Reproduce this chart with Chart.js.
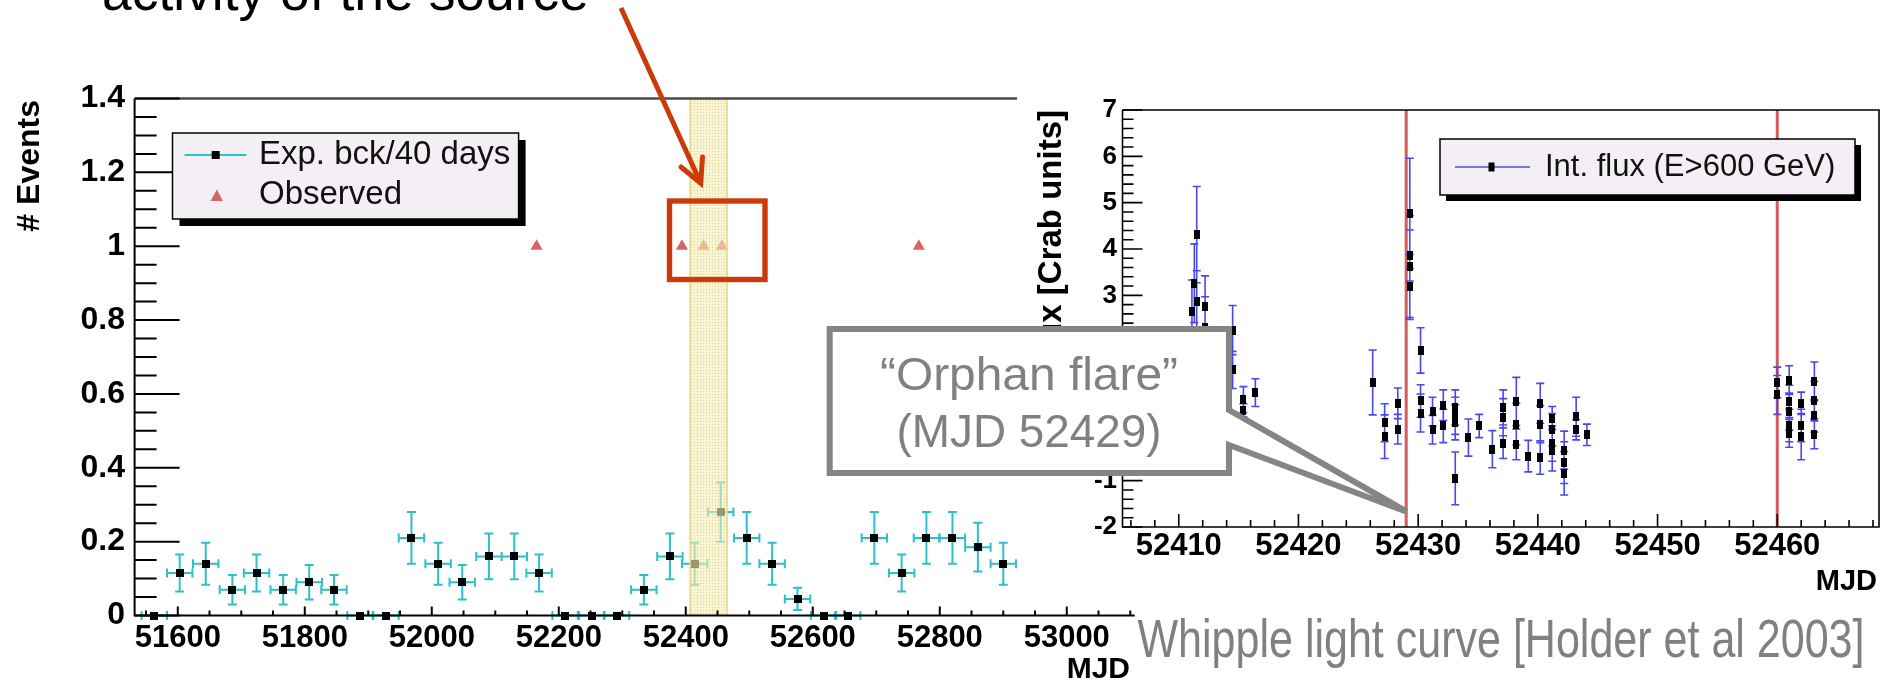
<!DOCTYPE html>
<html>
<head>
<meta charset="utf-8">
<title>Orphan flare light curves</title>
<script src="https://cdn.jsdelivr.net/npm/chart.js@4.4.1/dist/chart.umd.min.js"></script>
<style>
    html, body { margin: 0; padding: 0; background: #fff; overflow: hidden; }
    #page { position: relative; width: 1884px; height: 686px; }
    #leftBox { position: absolute; left: 0; top: 0; width: 1884px; height: 686px; }
    #rightBox { position: absolute; left: 1017px; top: 60px; width: 867px; height: 545px; background: #fff; }
    #overlay { position: absolute; left: 0; top: 0; }
</style>
</head>
<body>
<div id="page">
    <div id="leftBox"><canvas id="eventsChart"></canvas></div>
    <div id="rightBox"><canvas id="fluxChart"></canvas></div>
    <svg id="overlay" width="1884" height="686" font-family="'Liberation Sans', Arial, sans-serif">
        <text x="102" y="10" font-size="53" fill="#000" textLength="487" lengthAdjust="spacingAndGlyphs">activity of the source</text>
        <line x1="621" y1="8" x2="699.5" y2="180.5" stroke="#cc3a0a" stroke-width="5"/>
        <polyline points="681,167 700.7,183.3 702.5,157" fill="none" stroke="#cc3a0a" stroke-width="5" stroke-linecap="round" stroke-linejoin="miter"/>
        <rect x="669.5" y="201" width="95.5" height="78.5" fill="none" stroke="#cc3a0a" stroke-width="5.4"/>
        <polygon points="829.7,329 1229,329 1229,410 1406.7,511.7 1229,445 1229,473 829.7,473"
                 fill="#fff" stroke="#858585" stroke-width="6" stroke-miterlimit="3"/>
        <text x="1029" y="390" font-size="46" fill="#808080" text-anchor="middle" textLength="298" lengthAdjust="spacingAndGlyphs">“Orphan flare”</text>
        <text x="1029" y="447" font-size="46" fill="#808080" text-anchor="middle" textLength="265" lengthAdjust="spacingAndGlyphs">(MJD 52429)</text>
        <text x="1137.5" y="657" font-size="54" fill="#808080" textLength="727" lengthAdjust="spacingAndGlyphs">Whipple light curve [Holder et al 2003]</text>
    </svg>
</div>

<script>
// ---------- data: expected background vs. observed events (40 day bins) ----------
const bkgMjd = [51563, 51603, 51644, 51686, 51724, 51766, 51807, 51846, 51887, 51928,
                51968, 52010, 52048, 52090, 52130, 52169, 52210, 52252, 52291, 52334,
                52375, 52414, 52455, 52496, 52536, 52576, 52617, 52655, 52697, 52740,
                52779, 52820, 52860, 52900];
const bkgEvents = [0, 0.115, 0.14, 0.07, 0.115, 0.07, 0.09, 0.07, 0, 0,
                   0.21, 0.14, 0.09, 0.16, 0.16, 0.115, 0, 0, 0, 0.07,
                   0.16, 0.14, 0.28, 0.21, 0.14, 0.045, 0, 0, 0.21, 0.115,
                   0.21, 0.21, 0.185, 0.14];
const bkgErr = [0, 0.05, 0.057, 0.04, 0.05, 0.04, 0.047, 0.04, 0, 0,
                0.07, 0.057, 0.047, 0.062, 0.062, 0.05, 0, 0, 0, 0.04,
                0.062, 0.057, 0.08, 0.07, 0.057, 0.03, 0, 0, 0.07, 0.05,
                0.07, 0.07, 0.066, 0.057];
const binHalfWidth = 20;

const obsMjd = [52165, 52394, 52428, 52457, 52767];
const obsEvents = [1, 1, 1, 1, 1];

const bandMjd = [52407, 52465];

const leftXTicks = [51600, 51800, 52000, 52200, 52400, 52600, 52800, 53000];
const leftXLabels = ['51600', '51800', '52000', '52200', '52400', '52600', '52800', '53000'];
const leftYTicks = [0, 0.2, 0.4, 0.6, 0.8, 1, 1.2, 1.4];
const leftYLabels = ['0', '0.2', '0.4', '0.6', '0.8', '1', '1.2', '1.4'];

// ---------- data: Whipple integral flux (E>600 GeV) ----------
const fluxMjd = [
    52411.5, 52411.3, 52411.5, 52411.1, 52412.2, 52412.2, 52414.5, 52414.5, 52415.4, 52415.4, 52416.4,
    52426.2, 52427.2, 52427.2, 52428.3, 52428.3,
    52429.3, 52429.3, 52429.3, 52429.3,
    52430.2, 52430.2, 52430.2, 52431.2, 52431.2, 52432.1, 52432.1,
    52433.1, 52433.1, 52433.1, 52433.1, 52434.2, 52435.1, 52436.2,
    52437.1, 52437.1, 52437.1, 52438.2, 52438.2, 52438.2, 52439.2,
    52440.2, 52440.2, 52440.2, 52441.2, 52441.2, 52441.2, 52441.2,
    52442.2, 52442.2, 52442.2, 52443.2, 52443.2, 52444.1,
    52460.0, 52460.0, 52461.0, 52461.0, 52461.0, 52461.0, 52461.0,
    52462.0, 52462.0, 52462.0, 52463.1, 52463.1, 52463.1, 52463.1
];
const fluxVal = [
    4.31, 3.26, 2.87, 2.65, 2.76, 2.3, 2.25, 1.39, 0.75, 0.52, 0.9,
    1.12, 0.25, -0.05, 0.67, 0.11,
    4.77, 3.86, 3.62, 3.18,
    1.81, 0.72, 0.46, 0.49, 0.1, 0.63, 0.18,
    0.58, 0.4, 0.26, -0.95, -0.07, 0.18, -0.32,
    0.58, 0.37, -0.19, 0.71, 0.22, -0.22, -0.47,
    0.67, 0.22, -0.5, 0.35, 0.1, -0.2, -0.34,
    -0.34, -0.61, -0.84, 0.38, 0.1, -0.01,
    1.12, 0.85, 1.17, 0.71, 0.49, 0.19, 0.02,
    0.67, 0.19, -0.05, 1.14, 0.74, 0.4, -0.01
];
const fluxErr = [
    1.04, 0.85, 0.66, 0.68, 0.66, 0.67, 0.53, 0.4, 0.28, 0.14, 0.3,
    0.7, 0.41, 0.47, 0.33, 0.32,
    1.19, 0.55, 1.1, 0.7,
    0.49, 0.35, 0.41, 0.31, 0.31, 0.33, 0.36,
    0.38, 0.4, 0.38, 0.57, 0.4, 0.25, 0.4,
    0.38, 0.4, 0.33, 0.52, 0.45, 0.33, 0.34,
    0.43, 0.4, 0.36, 0.25, 0.35, 0.38, 0.45,
    0.41, 0.45, 0.47, 0.42, 0.22, 0.23,
    0.33, 0.42, 0.31, 0.35, 0.4, 0.35, 0.3,
    0.24, 0.35, 0.5, 0.42, 0.4, 0.35, 0.3
];
const flareLines = [52429, 52460];

const rightXTicks = [52410, 52420, 52430, 52440, 52450, 52460];
const rightXLabels = ['52410', '52420', '52430', '52440', '52450', '52460'];
const rightYTicks = [-2, -1, 0, 1, 2, 3, 4, 5, 6, 7];
const rightYLabels = ['-2', '-1', '0', '1', '2', '3', '4', '5', '6', '7'];

// ---------- drawing helpers ----------
const FONT = '"Liberation Sans", Arial, Helvetica, sans-serif';
const CYAN = '#2cc0c8';
const BLUE = '#4848f0';

function boxMarker(w, h) {
    const c = document.createElement('canvas');
    c.width = w; c.height = h;
    const g = c.getContext('2d');
    g.fillStyle = '#000';
    g.fillRect(0, 0, w, h);
    return c;
}

function eachTick(min, max, start, step, fn) {
    const n = Math.round((max - start) / step);
    for (let k = 0; k <= n; k++) {
        const v = start + k * step;
        if (v < min - 1e-9 || v > max + 1e-9) continue;
        fn(v);
    }
}

function isMajor(v, ticks, step) {
    return ticks.some(t => Math.abs(t - v) < step * 0.01);
}

function drawErrorBars(chart) {
    const { ctx, scales: { x, y } } = chart;
    chart.data.datasets.forEach(ds => {
        if (!ds.yErr) return;
        const st = ds.errStyle;
        ctx.save();
        ctx.strokeStyle = st.color;
        ctx.lineWidth = st.width;
        ctx.beginPath();
        ds.data.forEach((p, i) => {
            const px = x.getPixelForValue(p.x);
            const py = y.getPixelForValue(p.y);
            if (ds.xErr) {
                const x0 = x.getPixelForValue(p.x - ds.xErr);
                const x1 = x.getPixelForValue(p.x + ds.xErr);
                ctx.moveTo(x0, py); ctx.lineTo(x1, py);
                ctx.moveTo(x0, py - st.cap); ctx.lineTo(x0, py + st.cap);
                ctx.moveTo(x1, py - st.cap); ctx.lineTo(x1, py + st.cap);
            }
            const e = ds.yErr[i];
            if (e > 0) {
                const y0 = y.getPixelForValue(p.y - e);
                const y1 = y.getPixelForValue(p.y + e);
                ctx.moveTo(px, y0); ctx.lineTo(px, y1);
                ctx.moveTo(px - st.cap, y0); ctx.lineTo(px + st.cap, y0);
                ctx.moveTo(px - st.cap, y1); ctx.lineTo(px + st.cap, y1);
            }
        });
        ctx.stroke();
        ctx.restore();
    });
}

function drawAxes(chart, s) {
    const { ctx, chartArea: a, scales: { x, y } } = chart;
    ctx.save();
    ctx.strokeStyle = '#000';
    ctx.lineWidth = s.lineWidth;
    ctx.beginPath();
    ctx.moveTo(a.left, a.top);
    ctx.lineTo(a.left, a.bottom);
    ctx.lineTo(a.right, a.bottom);
    if (s.frame) {
        ctx.lineTo(a.right, a.top);
        ctx.lineTo(a.left, a.top);
    }
    ctx.stroke();
    if (s.topLine) {
        ctx.strokeStyle = s.topLine.color;
        ctx.lineWidth = s.topLine.width;
        ctx.beginPath();
        ctx.moveTo(a.left, a.top);
        ctx.lineTo(a.right, a.top);
        ctx.stroke();
    }

    // ticks point into the frame
    ctx.strokeStyle = '#000';
    ctx.lineWidth = s.tickWidth;
    ctx.beginPath();
    eachTick(x.min, x.max, s.xMinorStart, s.xMinorStep, v => {
        const px = x.getPixelForValue(v);
        const len = isMajor(v, s.xTicks, s.xMinorStep) ? s.xMajorLen : s.xMinorLen;
        ctx.moveTo(px, a.bottom);
        ctx.lineTo(px, a.bottom - len);
    });
    eachTick(y.min, y.max, s.yMinorStart, s.yMinorStep, v => {
        const py = y.getPixelForValue(v);
        const len = isMajor(v, s.yTicks, s.yMinorStep) ? s.yMajorLen : s.yMinorLen;
        ctx.moveTo(a.left, py);
        ctx.lineTo(a.left + len, py);
    });
    ctx.stroke();

    ctx.fillStyle = '#000';
    ctx.textBaseline = 'middle';
    ctx.font = s.xFont;
    ctx.textAlign = 'center';
    s.xTicks.forEach((v, i) => ctx.fillText(s.xLabels[i], x.getPixelForValue(v), a.bottom + s.xLabelGap));
    ctx.font = s.yFont;
    ctx.textAlign = 'right';
    s.yTicks.forEach((v, i) => ctx.fillText(s.yLabels[i], a.left - s.yLabelGap, y.getPixelForValue(v)));

    ctx.font = s.xTitleFont;
    ctx.fillText(s.xTitle, s.xTitlePos[0], s.xTitlePos[1]);
    ctx.font = s.yTitleFont;
    ctx.translate(s.yTitlePos[0], s.yTitlePos[1]);
    ctx.rotate(-Math.PI / 2);
    ctx.fillText(s.yTitle, 0, 0);
    ctx.restore();
}

function legendFrame(ctx, x0, y0, x1, y1, shadow) {
    ctx.fillStyle = '#000';
    ctx.fillRect(x0 + shadow, y0 + shadow, x1 - x0, y1 - y0);
    ctx.fillStyle = '#f4eff4';
    ctx.fillRect(x0, y0, x1 - x0, y1 - y0);
    ctx.strokeStyle = '#000';
    ctx.lineWidth = 1.5;
    ctx.strokeRect(x0, y0, x1 - x0, y1 - y0);
}

function makeDotPattern(ctx) {
    const c = document.createElement('canvas');
    c.width = 3; c.height = 3;
    const g = c.getContext('2d');
    g.fillStyle = 'rgba(200,180,70,0.55)';
    g.fillRect(1, 1, 1, 1);
    return ctx.createPattern(c, 'repeat');
}

// ---------- left panel: events per 40 days ----------
const leftAxes = {
    lineWidth: 2, tickWidth: 2, frame: false,
    topLine: { color: '#4a4a4a', width: 2.5 },
    xTicks: leftXTicks, xLabels: leftXLabels, xMinorStart: 51550, xMinorStep: 50,
    xMajorLen: 9, xMinorLen: 5, xLabelGap: 22.5, xFont: 'bold 31px ' + FONT,
    yTicks: leftYTicks, yLabels: leftYLabels, yMinorStart: 0, yMinorStep: 0.05,
    yMajorLen: 45, yMinorLen: 22, yLabelGap: 9.6, yFont: 'bold 32px ' + FONT,
    xTitle: 'MJD', xTitlePos: [1130, 670], xTitleFont: 'bold 30px ' + FONT,
    yTitle: '# Events', yTitlePos: [30, 100], yTitleFont: 'bold 32px ' + FONT
};

const leftDecor = {
    id: 'leftDecor',
    beforeDatasetsDraw(chart) {
        drawErrorBars(chart);
    },
    afterDatasetsDraw(chart) {
        const { ctx, chartArea: a, scales: { x } } = chart;
        // highlighted window around the flare
        const x0 = x.getPixelForValue(bandMjd[0]);
        const x1 = x.getPixelForValue(bandMjd[1]);
        ctx.save();
        ctx.fillStyle = 'rgba(246,238,184,0.62)';
        ctx.fillRect(x0, a.top, x1 - x0, a.bottom - a.top);
        ctx.fillStyle = makeDotPattern(ctx);
        ctx.fillRect(x0, a.top, x1 - x0, a.bottom - a.top);
        ctx.strokeStyle = '#e2d68e';
        ctx.lineWidth = 1.5;
        ctx.beginPath();
        ctx.moveTo(x0, a.top); ctx.lineTo(x0, a.bottom);
        ctx.moveTo(x1, a.top); ctx.lineTo(x1, a.bottom);
        ctx.stroke();
        ctx.restore();

        drawAxes(chart, leftAxes);

        // legend
        ctx.save();
        legendFrame(ctx, 172.5, 133, 518.6, 219, 7);
        ctx.strokeStyle = CYAN;
        ctx.lineWidth = 2;
        ctx.beginPath();
        ctx.moveTo(184.6, 155); ctx.lineTo(246.4, 155);
        ctx.stroke();
        ctx.fillStyle = '#000';
        ctx.fillRect(211.7, 151, 8, 8);
        ctx.fillStyle = '#d86464';
        ctx.beginPath();
        ctx.moveTo(216.8, 189.5); ctx.lineTo(223, 201); ctx.lineTo(210.6, 201);
        ctx.closePath();
        ctx.fill();
        ctx.fillStyle = '#111';
        ctx.font = '33px ' + FONT;
        ctx.textAlign = 'left';
        ctx.textBaseline = 'middle';
        ctx.fillText('Exp. bck/40 days', 259, 155);
        ctx.fillText('Observed', 259, 195);
        ctx.restore();
    }
};

new Chart(document.getElementById('eventsChart'), {
    type: 'scatter',
    data: {
        datasets: [
            {
                label: 'Exp. bck/40 days',
                data: bkgMjd.map((m, i) => ({ x: m, y: bkgEvents[i] })),
                yErr: bkgErr,
                xErr: binHalfWidth,
                errStyle: { color: CYAN, width: 2, cap: 4.5 },
                pointStyle: boxMarker(8, 8),
                clip: false
            },
            {
                label: 'Observed',
                data: obsMjd.map((m, i) => ({ x: m, y: obsEvents[i] })),
                pointStyle: 'triangle',
                pointRadius: 7,
                backgroundColor: '#d86464',
                borderWidth: 0,
                clip: false
            }
        ]
    },
    options: {
        responsive: true,
        maintainAspectRatio: false,
        devicePixelRatio: 1,
        animation: false,
        events: [],
        layout: { padding: { left: 134.6, top: 98.5, right: 749.3, bottom: 70.5 } },
        plugins: { legend: { display: false }, tooltip: { enabled: false } },
        scales: {
            x: { type: 'linear', min: 51532, max: 53107, display: false },
            y: { min: 0, max: 1.4, display: false }
        }
    },
    plugins: [leftDecor]
});

// ---------- right panel: Whipple light curve ----------
const rightAxes = {
    lineWidth: 1.6, tickWidth: 1.6, frame: true, topLine: null,
    xTicks: rightXTicks, xLabels: rightXLabels, xMinorStart: 52406, xMinorStep: 2,
    xMajorLen: 13, xMinorLen: 7, xLabelGap: 19, xFont: 'bold 31px ' + FONT,
    yTicks: rightYTicks, yLabels: rightYLabels, yMinorStart: -2, yMinorStep: 0.2,
    yMajorLen: 20, yMinorLen: 11, yLabelGap: 5.5, yFont: 'bold 26px ' + FONT,
    xTitle: 'MJD', xTitlePos: [860, 522], xTitleFont: 'bold 29px ' + FONT,
    yTitle: 'Int. flux [Crab units]', yTitlePos: [35, 50], yTitleFont: 'bold 33px ' + FONT
};

const rightDecor = {
    id: 'rightDecor',
    beforeDatasetsDraw(chart) {
        const { ctx, chartArea: a, scales: { x } } = chart;
        ctx.save();
        ctx.strokeStyle = '#d65a5e';
        ctx.lineWidth = 3;
        ctx.beginPath();
        flareLines.forEach(m => {
            const px = x.getPixelForValue(m);
            ctx.moveTo(px, a.top); ctx.lineTo(px, a.bottom);
        });
        ctx.stroke();
        ctx.restore();
        drawErrorBars(chart);
    },
    afterDatasetsDraw(chart) {
        const { ctx } = chart;
        drawAxes(chart, rightAxes);
        ctx.save();
        legendFrame(ctx, 423, 79, 838, 135, 6);
        ctx.strokeStyle = BLUE;
        ctx.lineWidth = 1.6;
        ctx.beginPath();
        ctx.moveTo(438, 107); ctx.lineTo(513, 107);
        ctx.stroke();
        ctx.fillStyle = '#000';
        ctx.fillRect(471.5, 102.5, 6, 9);
        ctx.fillStyle = '#111';
        ctx.font = '31px ' + FONT;
        ctx.textAlign = 'left';
        ctx.textBaseline = 'middle';
        ctx.fillText('Int. flux (E>600 GeV)', 528, 107);
        ctx.restore();
    }
};

new Chart(document.getElementById('fluxChart'), {
    type: 'scatter',
    data: {
        datasets: [{
            label: 'Int. flux (E>600 GeV)',
            data: fluxMjd.map((m, i) => ({ x: m, y: fluxVal[i] })),
            yErr: fluxErr,
            errStyle: { color: BLUE, width: 1.6, cap: 4 },
            pointStyle: boxMarker(6, 9),
            clip: false
        }]
    },
    options: {
        responsive: true,
        maintainAspectRatio: false,
        devicePixelRatio: 1,
        animation: false,
        events: [],
        layout: { padding: { left: 105.5, top: 50, right: 2, bottom: 78 } },
        plugins: { legend: { display: false }, tooltip: { enabled: false } },
        scales: {
            x: { type: 'linear', min: 52405.3, max: 52468.5, display: false },
            y: { min: -2, max: 7, display: false }
        }
    },
    plugins: [rightDecor]
});
</script>
</body>
</html>
